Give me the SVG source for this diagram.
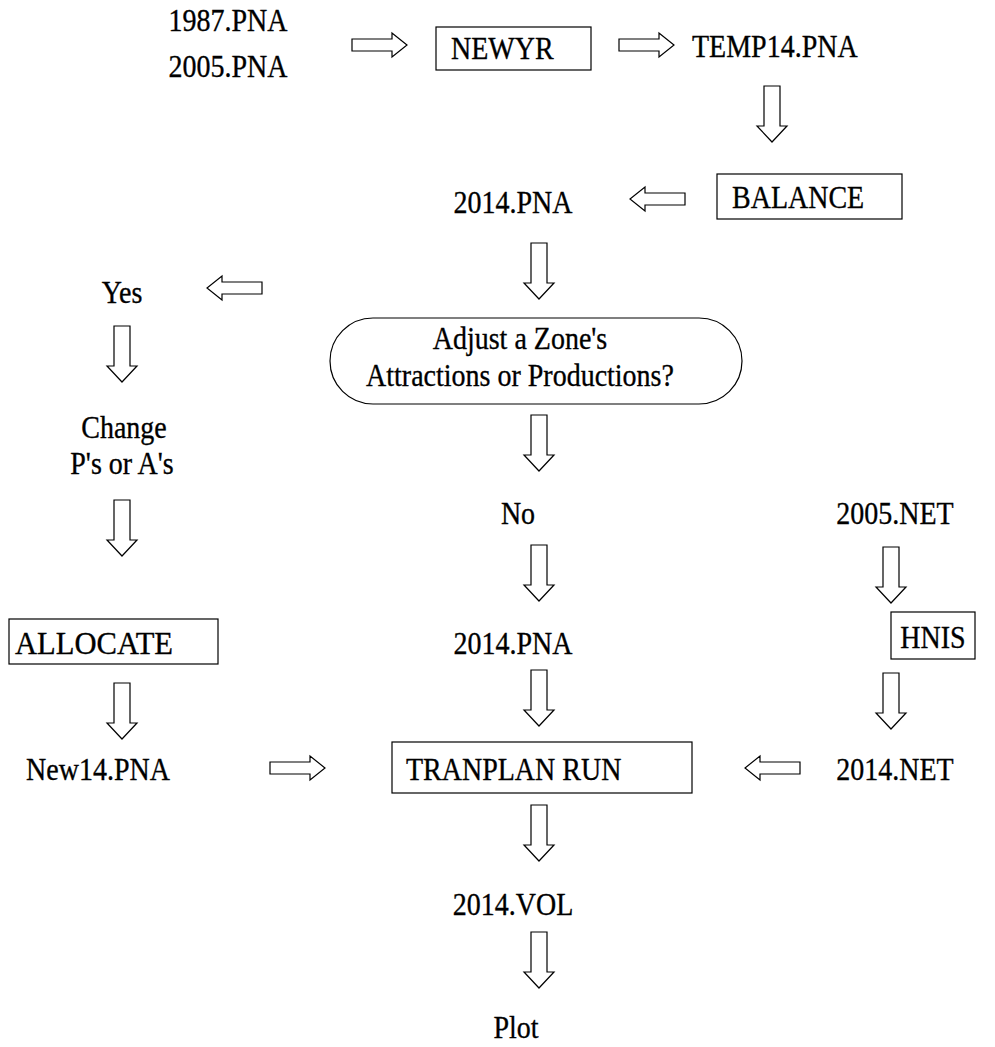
<svg xmlns="http://www.w3.org/2000/svg" width="995" height="1047" viewBox="0 0 995 1047">
<style>
text{font-family:"Liberation Serif","Times New Roman",serif;font-size:28px;fill:#000;stroke:#000;stroke-width:0.3}
.c{text-anchor:middle}
.box{fill:#fff;stroke:#000;stroke-width:1.2}
.arr{fill:#fff;stroke:#000;stroke-width:1.2;stroke-linejoin:miter}
</style>
<defs>
<path id="down" d="M-8,0 H8 V40 H15 L0,56 L-15,40 H-8 Z"/>
<path id="right" d="M0,-6 H40 V-12 L55,0 L40,12 V6 H0 Z"/>
<path id="left" d="M55,-6 H15 V-12 L0,0 L15,12 V6 H55 Z"/>
</defs>
<rect width="995" height="1047" fill="#fff"/>
<g id="connectors">
<use href="#right" class="arr" x="352" y="45"/>
<use href="#right" class="arr" x="619" y="45"/>
<use href="#down" class="arr" x="772" y="86"/>
<use href="#left" class="arr" x="630" y="199"/>
<use href="#down" class="arr" x="539" y="243"/>
<use href="#left" class="arr" x="207" y="288"/>
<use href="#down" class="arr" x="122" y="326"/>
<use href="#down" class="arr" x="122" y="500"/>
<use href="#down" class="arr" x="122" y="683"/>
<use href="#down" class="arr" x="539" y="415"/>
<use href="#down" class="arr" x="539" y="545"/>
<use href="#down" class="arr" x="539" y="670"/>
<use href="#down" class="arr" x="539" y="805"/>
<use href="#down" class="arr" x="539" y="932"/>
<use href="#down" class="arr" x="891" y="547"/>
<use href="#down" class="arr" x="891" y="673"/>
<use href="#right" class="arr" x="270" y="768"/>
<use href="#left" class="arr" x="745" y="768"/>
</g>
<g id="n1987"><text class="c" transform="translate(228 31) scale(1 1.1)">1987.PNA</text></g>
<g id="n2005"><text class="c" transform="translate(228 77) scale(1 1.1)">2005.PNA</text></g>
<g id="newyr"><rect class="box" x="436" y="27" width="155" height="43"/><text transform="translate(451 59) scale(1 1.1)">NEWYR</text></g>
<g id="temp14"><text transform="translate(692 57) scale(1 1.1)">TEMP14.PNA</text></g>
<g id="balance"><rect class="box" x="717" y="174" width="185" height="45"/><text transform="translate(732 208) scale(1 1.1)">BALANCE</text></g>
<g id="pna2014a"><text class="c" transform="translate(513 213) scale(1 1.1)">2014.PNA</text></g>
<g id="adjust"><rect class="box" x="330" y="318" width="412" height="86" rx="43"/><text class="c" transform="translate(520 349) scale(1 1.1)">Adjust a Zone's</text><text class="c" transform="translate(520 386) scale(1 1.1)">Attractions or Productions?</text></g>
<g id="yes"><text class="c" transform="translate(122 303) scale(1 1.1)">Yes</text></g>
<g id="change"><text class="c" transform="translate(124 438) scale(1 1.1)">Change</text><text class="c" transform="translate(122 474) scale(1 1.1)">P's or A's</text></g>
<g id="no"><text class="c" transform="translate(518 524) scale(1 1.1)">No</text></g>
<g id="net2005"><text class="c" transform="translate(895 524) scale(1 1.1)">2005.NET</text></g>
<g id="allocate"><rect class="box" x="9" y="619" width="209" height="45"/><text transform="translate(15 654) scale(1 1.1)" textLength="158" lengthAdjust="spacingAndGlyphs">ALLOCATE</text></g>
<g id="pna2014b"><text class="c" transform="translate(513 654) scale(1 1.1)">2014.PNA</text></g>
<g id="hnis"><rect class="box" x="891" y="612" width="84" height="47"/><text class="c" transform="translate(933 648) scale(1 1.1)">HNIS</text></g>
<g id="new14"><text class="c" transform="translate(98 780) scale(1 1.1)">New14.PNA</text></g>
<g id="tranplan"><rect class="box" x="392" y="742" width="300" height="51"/><text transform="translate(406 780) scale(1 1.1)">TRANPLAN RUN</text></g>
<g id="net2014"><text class="c" transform="translate(895 780) scale(1 1.1)">2014.NET</text></g>
<g id="vol2014"><text class="c" transform="translate(513 915) scale(1 1.1)">2014.VOL</text></g>
<g id="plot"><text class="c" transform="translate(516 1038) scale(1 1.1)">Plot</text></g>
</svg>
